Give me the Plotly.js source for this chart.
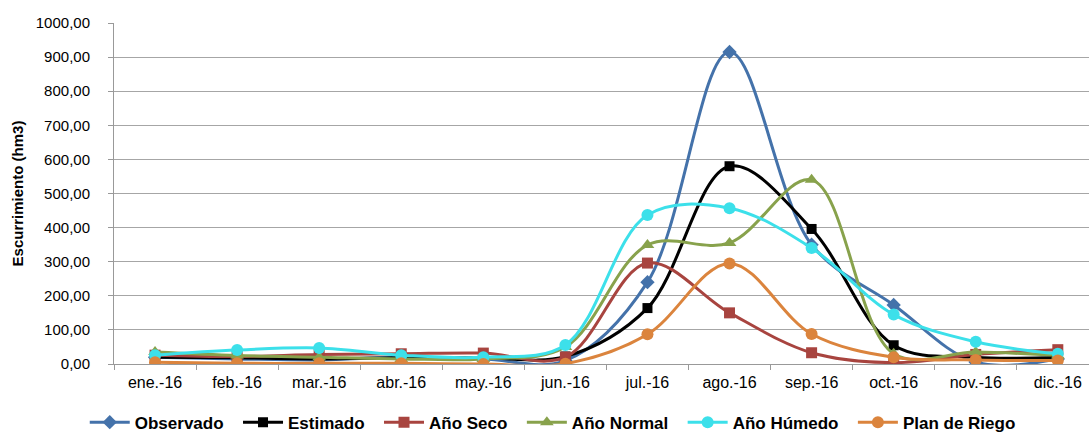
<!DOCTYPE html>
<html><head><meta charset="utf-8">
<script src="https://cdn.plot.ly/plotly-3.0.1.min.js"></script>
<style>body{margin:0;background:#fff}#c{width:1089px;height:434px}</style>
</head><body><div id="c"></div>
<script>
const months = ["ene.-16","feb.-16","mar.-16","abr.-16","may.-16","jun.-16","jul.-16","ago.-16","sep.-16","oct.-16","nov.-16","dic.-16"];
const observado = [20,15,12,20,15,10,240,915,350,173,5,15];
const estimado = [20,18,15,18,18,22,164,580,396,55,20,20];
const anoSeco = [26,22,28,30,32,20,296,150,33,4,28,42];
const anoNormal = [35,25,20,15,15,50,349,355,540,30,35,25];
const anoHumedo = [26,41,47,26,20,56,437,457,340,145,65,30];
const planRiego = [5,2,2,2,0,1,87,295,88,20,12,10];

const series = [
  {name:"Observado", y:observado, color:"#4472AA", symbol:"diamond", size:11},
  {name:"Estimado", y:estimado, color:"#000000", symbol:"square", size:10},
  {name:"Año Seco", y:anoSeco, color:"#A8443F", symbol:"square", size:11},
  {name:"Año Normal", y:anoNormal, color:"#88A24C", symbol:"triangle-up", size:12},
  {name:"Año Húmedo", y:anoHumedo, color:"#3CE0EA", symbol:"circle", size:12},
  {name:"Plan de Riego", y:planRiego, color:"#DB843D", symbol:"circle", size:12}
];
const traces = series.map((s, i) => ({
  type:"scatter", mode:"lines+markers",
  name:"<b>" + s.name + "</b>" + (i < series.length - 1 ? "&nbsp;&nbsp;" : ""),
  x:months, y:s.y,
  line:{color:s.color, width:3, shape:"spline", smoothing:1},
  marker:{color:s.color, symbol:s.symbol, size:s.size}
}));
const layout = {
  width:1089, height:434,
  margin:{l:114, r:0, t:23, b:70, autoexpand:false},
  separators:",.",
  font:{family:"Liberation Sans, Arial, sans-serif", color:"#000"},
  paper_bgcolor:"#fff", plot_bgcolor:"#fff",
  xaxis:{type:"category", range:[-0.5,11.38], tickson:"boundaries", ticks:"outside", ticklen:5,
    tickcolor:"#999", showline:true, linecolor:"#999", linewidth:1, showgrid:false,
    tickfont:{size:16}, ticklabelstandoff:4, automargin:false, fixedrange:true},
  yaxis:{range:[0,1000], dtick:100, tickformat:".2f", showline:true, linecolor:"#999",
    ticks:"outside", ticklen:5, tickcolor:"#999", ticklabelstandoff:15,
    gridcolor:"#a6a6a6", gridwidth:1, zeroline:false, tickfont:{size:15}, automargin:false,
    title:{text:"<b>Escurrimiento (hm3)</b>", font:{size:15}, standoff:8}},
  legend:{orientation:"h", x:0.45, xanchor:"center", y:-0.172, yanchor:"middle",
    font:{size:17}, itemwidth:40, traceorder:"normal"},
  showlegend:true
};
Plotly.newPlot("c", traces, layout, {displayModeBar:false, staticPlot:true});
</script></body></html>
